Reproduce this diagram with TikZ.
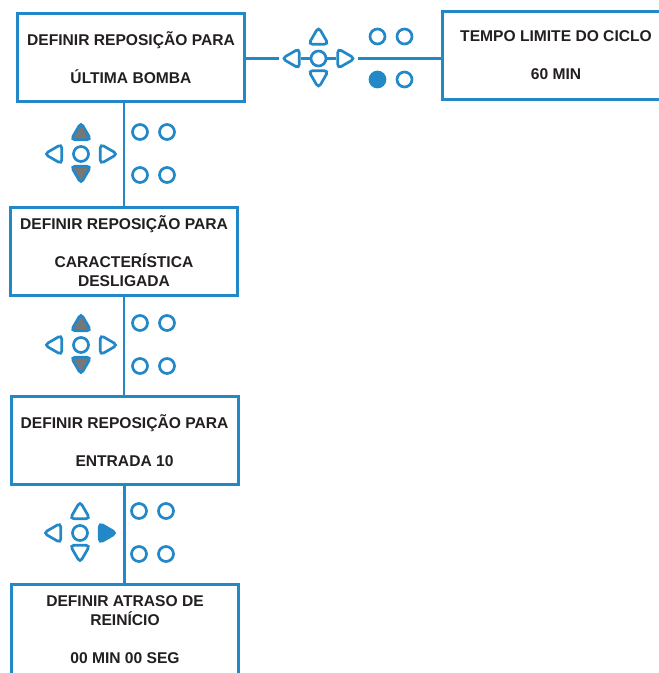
\documentclass[tikz,border=0pt]{standalone}
\usepackage{fontspec}
\setmainfont{Liberation Sans}
\usepackage{tikz}
\usetikzlibrary{shapes.geometric}
\usetikzlibrary{positioning}
\definecolor{keyblue}{HTML}{2288C8}
\definecolor{keygray}{HTML}{777777}
\definecolor{txt}{HTML}{231F20}
% #1 name, #2 centre, #3 fill up/down, #4 fill right, #5 fill lower led
\newcommand{\keypad}[5]{
  \node[btn] (#1c) at (#2) {};
  \node[tri,fill=#3] (#1u) at ([yshift=20pt]#1c) {};
  \node[tri,fill=#3,shape border rotate=180] (#1d) at ([yshift=-18pt]#1c) {};
  \node[tri,shape border rotate=90] (#1l) at ([xshift=-25pt]#1c) {};
  \node[tri,fill=#4,shape border rotate=-90] (#1r) at ([xshift=25pt]#1c) {};
  \node[led] (#1a) at ([xshift=59pt,yshift=22pt]#1c) {};
  \node[led] (#1b) at ([xshift=86pt,yshift=22pt]#1c) {};
  \node[led,fill=#5] (#1e) at ([xshift=59pt,yshift=-21pt]#1c) {};
  \node[led] (#1f) at ([xshift=86pt,yshift=-21pt]#1c) {};
}

\begin{document}
\begin{tikzpicture}[x=1pt,y=-1pt]
\tikzstyle{menu}=[draw=keyblue,line width=3pt,minimum width=227pt,minimum height=88pt,inner sep=0pt,align=center,text=txt,font=\fontsize{15.6}{19}\selectfont\bfseries]
\tikzstyle{link}=[draw=keyblue,line width=2.6pt]
\tikzstyle{tri}=[regular polygon,regular polygon sides=3,draw=keyblue,line width=2.7pt,minimum size=23pt,inner sep=0pt,rounded corners=4pt]
\tikzstyle{btn}=[circle,draw=keyblue,line width=2.7pt,minimum size=15pt,inner sep=0pt]
\tikzstyle{led}=[circle,draw=keyblue,line width=2.7pt,minimum size=15pt,inner sep=0pt]
\useasboundingbox (0,0) rectangle (659,673);
\clip (0,0) rectangle (659,673);

\node[menu] (N1) at (131,57.5) {DEFINIR REPOSIÇÃO PARA\\[19pt]ÚLTIMA BOMBA};
\node[menu] (T1) at (556,55.5) {TEMPO LIMITE DO CICLO\\[19pt]60 MIN};
\node[menu] (N2) at (124,251.5) {DEFINIR REPOSIÇÃO PARA\\[19pt]CARACTERÍSTICA\\DESLIGADA};
\node[menu] (N3) at (124.5,440.5) {DEFINIR REPOSIÇÃO PARA\\[19pt]ENTRADA 10};
\node[menu,minimum height=91pt] (N4) at (125,630) {DEFINIR ATRASO DE\\REINÍCIO\\[19pt]00 MIN 00 SEG};

\keypad{K1}{318.5,58.5}{none}{none}{keyblue}
\keypad{K2}{81,154}{keygray}{none}{none}
\keypad{K3}{81,345}{keygray}{none}{none}
\keypad{K4}{80,533}{none}{keyblue}{none}

\draw[link] (K1c -| N1.east) -- (K1l) -- (K1c) -- (K1r) -- (K1c -| T1.west);
\draw[link] (N1.south -| N2.north) -- (N2.north);
\draw[link] (N2.south) -- (N2.south |- N3.north);
\draw[link] (N3.south) -- (N3.south |- N4.north);
\end{tikzpicture}
\end{document}
